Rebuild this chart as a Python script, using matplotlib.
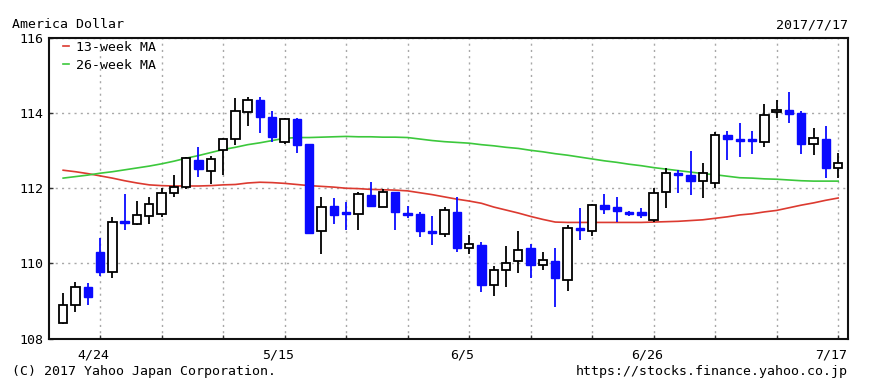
import matplotlib
matplotlib.use("Agg")
import matplotlib.pyplot as plt
import numpy as np
import pandas as pd
from matplotlib.transforms import ScaledTranslation

# USD/JPY daily candles, 2017-04-19 .. 2017-07-17 (weekdays)
dates = pd.bdate_range("2017-04-19", "2017-07-17")

opens = [108.42, 108.89, 109.36, 110.29, 109.78, 111.13, 111.05, 111.26, 111.32, 111.87,
         112.02, 112.76, 112.46, 113.01, 113.31, 114.03, 114.34, 113.91, 113.23, 113.85,
         113.17, 110.86, 111.53, 111.35, 111.32, 111.81, 111.51, 111.89, 111.34, 111.31,
         110.86, 110.78, 111.38, 110.40, 110.49, 109.42, 109.82, 110.05, 110.40, 109.95,
         110.07, 109.57, 110.94, 110.85, 111.56, 111.51, 111.38, 111.38, 111.16, 111.91,
         112.40, 112.34, 112.18, 112.15, 113.41, 113.31, 113.31, 113.23, 114.02, 114.09,
         114.00, 113.18, 113.31, 112.55]
highs = [109.22, 109.51, 109.48, 110.67, 111.24, 111.84, 111.66, 111.78, 112.00, 112.36,
         112.83, 113.11, 112.87, 113.33, 114.40, 114.42, 114.42, 114.06, 113.87, 113.87,
         113.17, 111.78, 111.73, 111.64, 111.89, 112.16, 111.97, 111.91, 111.53, 111.38,
         111.27, 111.51, 111.78, 110.76, 110.58, 109.94, 110.45, 110.85, 110.51, 110.31,
         110.40, 111.02, 111.47, 111.57, 111.84, 111.78, 111.39, 111.47, 112.00, 112.53,
         112.49, 112.99, 112.67, 113.51, 113.53, 113.73, 113.53, 114.24, 114.35, 114.56,
         114.05, 113.60, 113.65, 112.93]
lows = [108.38, 108.71, 108.89, 109.66, 109.60, 110.89, 111.02, 111.05, 111.24, 111.78,
        111.98, 112.31, 112.11, 112.36, 113.16, 113.65, 113.47, 113.23, 113.17, 112.93,
        110.78, 110.25, 111.05, 110.89, 110.89, 111.51, 111.49, 110.89, 111.20, 110.69,
        110.49, 110.69, 110.31, 110.25, 109.24, 109.14, 109.38, 109.75, 109.62, 109.82,
        108.84, 109.27, 110.62, 110.74, 111.31, 111.09, 111.26, 111.20, 111.11, 111.47,
        111.87, 111.82, 111.75, 112.00, 112.75, 112.82, 112.91, 113.11, 113.87, 113.75,
        112.91, 112.89, 112.27, 112.28]
closes = [108.89, 109.36, 109.10, 109.78, 111.11, 111.07, 111.29, 111.57, 111.87, 112.03,
          112.80, 112.51, 112.77, 113.31, 114.05, 114.34, 113.91, 113.36, 113.84, 113.16,
          110.80, 111.51, 111.29, 111.31, 111.84, 111.53, 111.89, 111.36, 111.30, 110.85,
          110.80, 111.41, 110.42, 110.51, 109.42, 109.82, 110.02, 110.35, 109.95, 110.09,
          109.60, 110.93, 110.90, 111.56, 111.44, 111.39, 111.31, 111.29, 111.87, 112.40,
          112.34, 112.18, 112.40, 113.41, 113.31, 113.27, 113.27, 113.96, 114.09, 113.98,
          113.18, 113.35, 112.53, 112.67]

ma13 = [112.48, 112.44, 112.39, 112.33, 112.27, 112.20, 112.14, 112.09, 112.07, 112.06,
        112.06, 112.06, 112.07, 112.09, 112.10, 112.14, 112.16, 112.15, 112.13, 112.10,
        112.07, 112.05, 112.03, 112.00, 111.99, 111.97, 111.96, 111.95, 111.93, 111.88,
        111.83, 111.77, 111.71, 111.66, 111.60, 111.50, 111.42, 111.34, 111.25, 111.17,
        111.10, 111.09, 111.09, 111.09, 111.09, 111.09, 111.09, 111.09, 111.10, 111.11,
        111.12, 111.14, 111.16, 111.20, 111.24, 111.29, 111.32, 111.37, 111.41, 111.48,
        111.55, 111.61, 111.68, 111.74]
ma26 = [112.27, 112.31, 112.35, 112.40, 112.44, 112.49, 112.54, 112.59, 112.65, 112.72,
        112.80, 112.87, 112.95, 113.03, 113.09, 113.16, 113.21, 113.27, 113.33, 113.35,
        113.35, 113.36, 113.37, 113.38, 113.37, 113.37, 113.36, 113.36, 113.35, 113.31,
        113.27, 113.24, 113.22, 113.20, 113.16, 113.13, 113.09, 113.06, 113.01, 112.97,
        112.92, 112.88, 112.83, 112.78, 112.73, 112.69, 112.64, 112.60, 112.55, 112.51,
        112.47, 112.43, 112.39, 112.36, 112.32, 112.28, 112.27, 112.25, 112.24, 112.22,
        112.20, 112.19, 112.19, 112.19]

tick_dates = ["4/24", "5/15", "6/5", "6/26", "7/17"]
y_ticks = [108, 110, 112, 114, 116]

UP_EDGE = "#000000"
DOWN = "#0a0aff"
RED = "#dc3a30"
GREEN = "#3cc83c"
GRID = "#a8a8a8"
FONT = "DejaVu Sans Mono"

plt.rcParams["font.family"] = FONT
plt.rcParams["font.size"] = 9.5

fig = plt.figure(figsize=(8.7, 3.85), dpi=100)
ax = fig.add_axes([49 / 870, 1 - 338.5 / 385, 799 / 870, 300.5 / 385])

o = np.array(opens)
h = np.array(highs)
l = np.array(lows)
c = np.array(closes)
x = np.arange(len(dates))
up = c >= o

# wicks
ax.vlines(x[up], l[up], h[up], color=UP_EDGE, linewidth=1.3, zorder=3)
ax.vlines(x[~up], l[~up], h[~up], color=DOWN, linewidth=1.3, zorder=3)
# bodies
body_lo = np.minimum(o, c)
body_h = np.maximum(np.abs(c - o), 0.05)
ax.bar(x[up], body_h[up], bottom=body_lo[up], width=0.68, facecolor="white",
       edgecolor=UP_EDGE, linewidth=1.3, zorder=4)
ax.bar(x[~up], body_h[~up], bottom=body_lo[~up], width=0.68, facecolor=DOWN,
       edgecolor=DOWN, linewidth=1.0, zorder=4)

ax.plot(x, ma13, color=RED, linewidth=1.2, zorder=2, label="13-week MA")
ax.plot(x, ma26, color=GREEN, linewidth=1.2, zorder=2, label="26-week MA")

# axes, grid
ax.set_xlim(-1.15, len(dates) - 0.2)
ax.set_ylim(108, 116)
mondays = x[dates.dayofweek == 0]
labels = [f"{d.month}/{d.day}" for d in dates[mondays]]
ax.set_xticks(mondays)
ax.set_xticklabels([s if s in tick_dates else "" for s in labels])
ax.set_yticks(y_ticks)
ax.set_yticklabels([str(v) for v in y_ticks])
ax.tick_params(axis="both", direction="in", length=3, width=1, color="#333333",
               labelsize=9.5)
ax.tick_params(axis="x", pad=7)
ax.tick_params(axis="y", pad=4)
ax.grid(True, color=GRID, linestyle=(0, (1.5, 3)), linewidth=1.0, zorder=0)
ax.set_axisbelow(True)
for s in ax.spines.values():
    s.set_linewidth(1.5)
    s.set_color("#111111")

shift = ScaledTranslation(-7 / 100, 0, fig.dpi_scale_trans)
for lab in ax.get_xticklabels():
    lab.set_transform(lab.get_transform() + shift)

leg = ax.legend(loc="upper left", bbox_to_anchor=(0.018, 0.99), frameon=False,
                handlelength=0.45, handletextpad=0.5, borderpad=0, borderaxespad=0,
                labelspacing=0.35, fontsize=9.5)

fig.text(12 / 870, 1 - 28 / 385, "America Dollar", ha="left", va="baseline")
fig.text(848 / 870, 1 - 28 / 385, "2017/7/17", ha="right", va="baseline")
fig.text(12 / 870, 1 - 375 / 385, "(C) 2017 Yahoo Japan Corporation.", ha="left", va="baseline")
fig.text(848 / 870, 1 - 375 / 385, "https://stocks.finance.yahoo.co.jp", ha="right", va="baseline")

fig.savefig("out.png", dpi=100, facecolor="white")
